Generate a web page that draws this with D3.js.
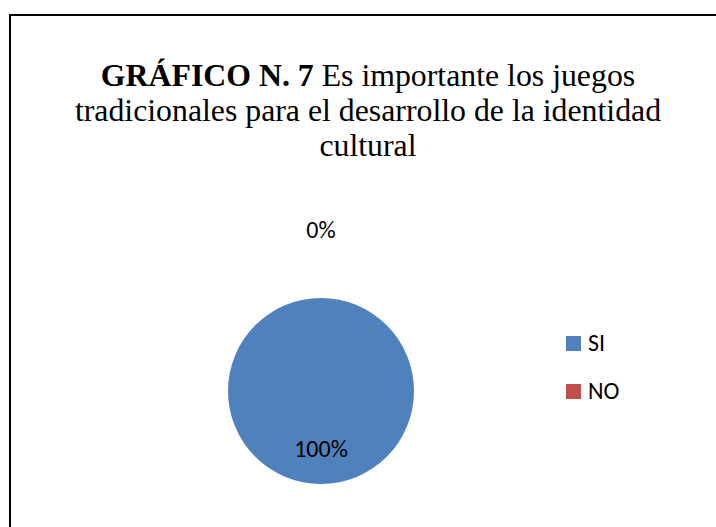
<!DOCTYPE html>
<html>
<head>
<meta charset="utf-8">
<script src="https://cdn.jsdelivr.net/npm/d3@7"></script>
<style>
  html, body { margin: 0; padding: 0; background: #fff; }
  svg { display: block; }
</style>
</head>
<body>
<div id="chart"></div>
<script>
const categories = ["SI", "NO"];
const values = [100, 0];
const labels = ["100%", "0%"];
const colors = ["#4F81BD", "#C0504D"];
const titleBold = "GRÁFICO N. 7";
const titleLines = [" Es importante los juegos", "tradicionales para el desarrollo de la identidad", "cultural"];

const W = 716, H = 527;
const svg = d3.select("#chart").append("svg").attr("width", W).attr("height", H);

// frame
svg.append("rect").attr("x", 10).attr("y", 15).attr("width", 716).attr("height", 530)
  .attr("fill", "#fff").attr("stroke", "#000").attr("stroke-width", 2);

// title
const titleX = 368;
const titleFont = "\"Liberation Serif\", \"Times New Roman\", serif";
const tt = svg.append("text").attr("text-anchor", "middle")
  .style("font-family", titleFont).attr("font-size", 31.8).attr("fill", "#000");
const l1 = tt.append("tspan").attr("x", titleX).attr("y", 86);
l1.append("tspan").attr("font-weight", "bold").text(titleBold);
l1.append("tspan").text(titleLines[0]);
tt.append("tspan").attr("x", titleX).attr("y", 121).text(titleLines[1]);
tt.append("tspan").attr("x", titleX).attr("y", 156).text(titleLines[2]);

// pie
const cx = 321, cy = 391, r = 93;
const pie = d3.pie().sort(null).value(d => d)(values);
const arc = d3.arc().innerRadius(0).outerRadius(r);
const g = svg.append("g").attr("transform", `translate(${cx},${cy})`);
g.selectAll("path").data(pie).enter().append("path")
  .attr("d", arc).attr("fill", (d, i) => colors[i]);

const labelFont = "Carlito, Calibri, Lato, sans-serif";
const inArc = d3.arc().innerRadius(58).outerRadius(58);
const outArc = d3.arc().innerRadius(161).outerRadius(161);
g.selectAll("text.lbl").data(pie).enter().append("text")
  .attr("class", "lbl")
  .attr("transform", (d, i) => {
    const c = (d.value > 0 ? inArc : outArc).centroid(d);
    return `translate(${c[0]},${c[1]})`;
  })
  .attr("text-anchor", "middle").attr("dy", "0.35em")
  .style("font-family", labelFont).attr("font-size", 24).attr("fill", "#000")
  .text((d, i) => labels[i]);

// legend
const lg = svg.append("g");
const ly = d3.scalePoint().domain(categories).range([336, 384]);
categories.forEach((c, i) => {
  lg.append("rect").attr("x", 566).attr("y", ly(c)).attr("width", 15).attr("height", 15)
    .attr("fill", colors[i]);
  lg.append("text").attr("x", 588).attr("y", ly(c) + 15)
    .style("font-family", labelFont).attr("font-size", 24).attr("fill", "#000").text(c);
});
</script>
</body>
</html>
